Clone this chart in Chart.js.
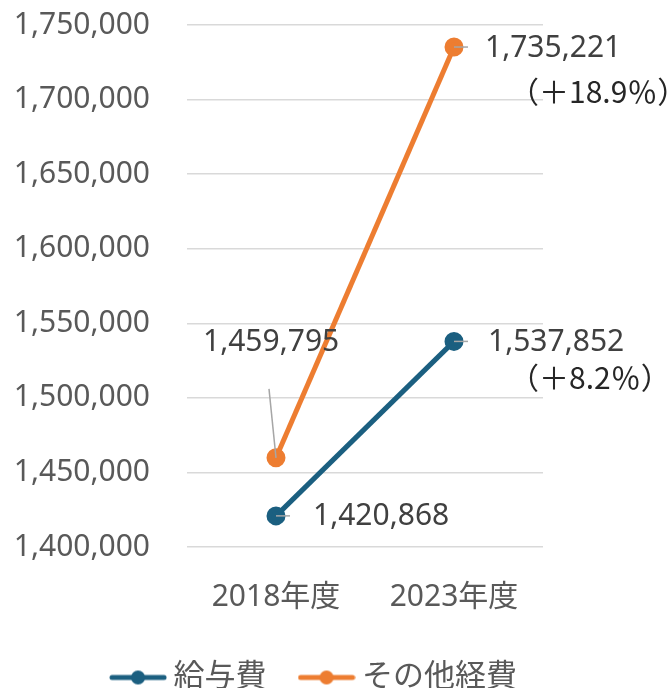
<!DOCTYPE html>
<html>
<head>
<meta charset="utf-8">
<script src="https://cdn.jsdelivr.net/npm/chart.js@4/dist/chart.umd.min.js"></script>
<style>
  html, body { margin: 0; padding: 0; background: #fff; }
  #wrap { width: 668px; height: 688px; position: relative; }
</style>
</head>
<body>
<div id="wrap"><canvas id="chart"></canvas></div>
<script>
// --- data ---
const categories = ['2018年度', '2023年度'];
const seriesNames = ['給与費', 'その他経費'];
const salaryValues = [1420868, 1537852];
const otherValues = [1459795, 1735221];
const yMin = 1400000;
const yMax = 1750000;
const yStep = 50000;

const BLUE = '#1b5f80';
const ORANGE = '#ed7d31';
const FONT = "'Noto Sans', 'Noto Sans CJK JP', sans-serif";

// label offsets relative to each point (dx, dy), leader end, percent line
const labelLayout = [
  [ { dx: 37, dy: 1, lx: 14, ly: 0 }, { dx: 34, dy: 1, lx: 14, ly: 0, pdx: 55, pdy: 36 } ],
  [ { dx: -73, dy: -115, lx: -7, ly: -69 }, { dx: 31, dy: 1, lx: 14, ly: 0, pdx: 55, pdy: 45 } ]
];

function legendMarker(color) {
  const c = document.createElement('canvas');
  c.width = 58; c.height = 16;
  const g = c.getContext('2d');
  g.strokeStyle = color;
  g.lineWidth = 5;
  g.lineCap = 'round';
  g.beginPath(); g.moveTo(3, 8); g.lineTo(55, 8); g.stroke();
  g.fillStyle = color;
  g.beginPath(); g.arc(29, 8, 7, 0, Math.PI * 2); g.fill();
  return c;
}

const pointLabels = {
  id: 'pointLabels',
  afterLayout(chart) {
    // legend sits a little right of the plot centre
    chart.legend.left += 46;
    chart.legend.right += 46;
  },
  afterDatasetsDraw(chart) {
    const ctx = chart.ctx;
    ctx.save();
    chart.data.datasets.forEach((ds, di) => {
      const meta = chart.getDatasetMeta(di);
      meta.data.forEach((pt, i) => {
        const o = labelLayout[di][i];
        ctx.strokeStyle = '#a6a6a6';
        ctx.lineWidth = 1.5;
        ctx.beginPath();
        ctx.moveTo(pt.x, pt.y);
        ctx.lineTo(pt.x + o.lx, pt.y + o.ly);
        ctx.stroke();
        ctx.fillStyle = '#404040';
        ctx.font = '30px ' + FONT;
        ctx.textAlign = 'left';
        ctx.textBaseline = 'middle';
        ctx.fillText(ds.data[i].toLocaleString('en-US'), pt.x + o.dx, pt.y + o.dy);
        if (o.pdx !== undefined) {
          const pct = ((ds.data[i] / ds.data[0] - 1) * 100).toFixed(1);
          ctx.fillStyle = '#262626';
          ctx.font = "30px 'Noto Sans CJK JP', sans-serif";
          ctx.fillText('（＋' + pct + '％）', pt.x + o.pdx, pt.y + o.pdy);
        }
      });
    });
    ctx.restore();
  }
};

new Chart(document.getElementById('chart'), {
  type: 'line',
  data: {
    labels: categories,
    datasets: [
      { label: seriesNames[0], data: salaryValues, borderColor: BLUE, backgroundColor: BLUE,
        borderWidth: 5, pointRadius: 7, pointHoverRadius: 7 },
      { label: seriesNames[1], data: otherValues, borderColor: ORANGE, backgroundColor: ORANGE,
        borderWidth: 5, pointRadius: 7, pointHoverRadius: 7 }
    ]
  },
  options: {
    responsive: true,
    maintainAspectRatio: false,
    animation: false,
    layout: { padding: { top: 0, right: 125, left: 0, bottom: -15 } },
    scales: {
      x: {
        offset: true,
        grid: { display: false },
        border: { display: false },
        ticks: { color: '#595959', font: { family: FONT, size: 30 }, padding: 24 },
        afterFit: s => { s.height = 75; }
      },
      y: {
        min: yMin,
        max: yMax,
        grid: { color: '#d9d9d9', lineWidth: 1.5, drawTicks: false },
        border: { display: false },
        ticks: {
          stepSize: yStep,
          padding: 37,
          color: '#595959',
          font: { family: FONT, size: 30 },
          callback: v => v.toLocaleString('en-US')
        },
        afterFit: s => { s.width = 187; s.paddingTop = 25; s.paddingBottom = 0; }
      }
    },
    plugins: {
      legend: {
        position: 'bottom',
        labels: {
          usePointStyle: true,
          pointStyleWidth: 40,
          padding: 40,
          color: '#595959',
          font: { family: FONT, size: 31 },
          generateLabels: chart => chart.data.datasets.map((ds, i) => ({
            text: ds.label,
            pointStyle: legendMarker(ds.borderColor),
            fillStyle: ds.borderColor,
            strokeStyle: ds.borderColor,
            lineWidth: 0,
            fontColor: '#595959',
            datasetIndex: i
          }))
        }
      },
      tooltip: { enabled: false }
    }
  },
  plugins: [pointLabels]
});
</script>
</body>
</html>
